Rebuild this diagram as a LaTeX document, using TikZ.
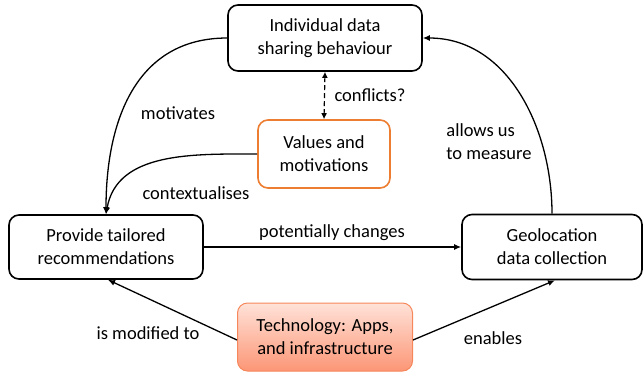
\documentclass[tikz,border=0pt]{standalone}
\usepackage{fontspec}
\setmainfont{Carlito}
\usetikzlibrary{arrows.meta}
\definecolor{valorange}{RGB}{237,125,49}
\definecolor{techedge}{RGB}{245,135,90}
\definecolor{techtop}{RGB}{255,226,216}
\definecolor{techbottom}{RGB}{252,150,118}
\begin{document}
\begin{tikzpicture}[x=1pt, y=-1pt,
    box/.style={draw, line width=1.6pt, rounded corners=10pt, align=center,
        inner sep=0pt, font=\fontsize{18.5}{23}\selectfont},
    arr/.style={-{Latex[length=7pt,width=6pt]}, line width=1.3pt},
    lbl/.style={font=\fontsize{18.5}{23}\selectfont, inner sep=0pt}]
    \useasboundingbox (0,0) rectangle (644,373);

    % the five boxes
    \node[box, minimum width=194pt, minimum height=66pt] (behaviour) at (325,38) {Individual data\\sharing behaviour};
    \node[box, draw=valorange, minimum width=132pt, minimum height=68pt] (values) at (324,154) {Values and\\motivations};
    \node[box, minimum width=194pt, minimum height=64pt] (recommend) at (106,247) {Provide tailored\\recommendations};
    \node[box, minimum width=180pt, minimum height=65pt] (geo) at (552,247) {Geolocation\\data collection};
    \node[box, draw=techedge, line width=1pt, top color=techtop, bottom color=techbottom,
        minimum width=175pt, minimum height=68pt] (tech) at (325,337) {Technology: Apps,\\and infrastructure};

    % connectors
    \draw[arr] (behaviour.west) to[out=180, in=90, looseness=1.1] (recommend.north);
    \draw[arr] (values.west) to[out=180, in=80] (recommend.north);
    \draw[{Latex[length=6pt,width=6pt]}-{Latex[length=6pt,width=6pt]}, dash pattern=on 5pt off 3pt, line width=1.2pt]
        (behaviour.south) -- (values.north);
    \draw[arr] (recommend.east) -- (geo.west);
    \draw[arr] (geo.north) to[out=90, in=0] (behaviour.east);
    \draw[arr] ([yshift=-3pt]tech.west) -- ([xshift=2pt]recommend.south);
    \draw[arr] ([yshift=-3pt]tech.east) -- ([xshift=3pt]geo.south);

    % labels
    \node[lbl] (lmot) at (178,113) {motivates};
    \node[lbl] (lctx) at (196,193) {contextualises};
    \node[lbl] (lcon) at (370,95) {conflicts?};
    \node[lbl, align=left] (lmeas) at (489,142) {allows us\\to measure};
    \node[lbl] (lchg) at (332,233) {potentially changes};
    \node[lbl] (lmod) at (148,333) {is modified to};
    \node[lbl] (lena) at (493,338) {enables};
\end{tikzpicture}
\end{document}
